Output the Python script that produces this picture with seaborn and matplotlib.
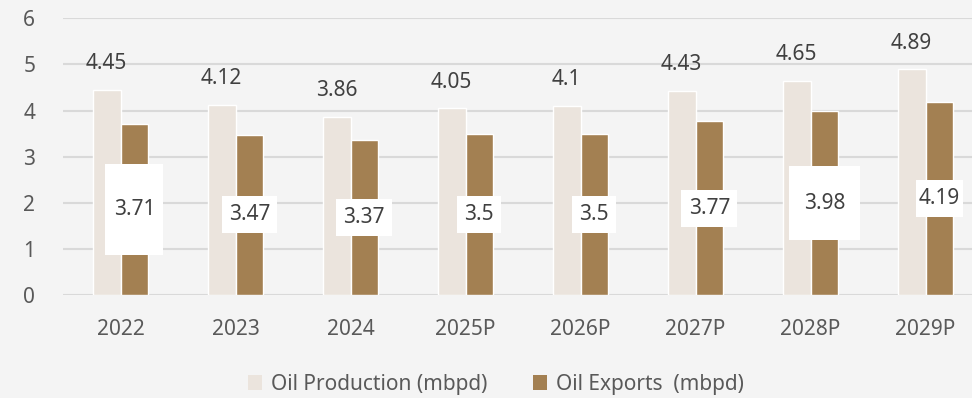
import matplotlib
matplotlib.use("Agg")
import matplotlib.pyplot as plt
from matplotlib.patches import Rectangle
import seaborn as sns
import pandas as pd

years = ["2022", "2023", "2024", "2025P", "2026P", "2027P", "2028P", "2029P"]
production = [4.45, 4.12, 3.86, 4.05, 4.10, 4.43, 4.65, 4.89]
exports = [3.71, 3.47, 3.37, 3.50, 3.50, 3.77, 3.98, 4.19]
production_labels = ["4.45", "4.12", "3.86", "4.05", "4.1", "4.43", "4.65", "4.89"]
export_labels = ["3.71", "3.47", "3.37", "3.5", "3.5", "3.77", "3.98", "4.19"]
series_names = ["Oil Production (mbpd)", "Oil Exports  (mbpd)"]

# white label boxes (width, height in pixels) behind the export values
export_box_px = [(58, 91), (55, 37), (56, 37), (44, 37), (44, 37), (56, 37), (71, 74), (47, 37)]

df = pd.DataFrame({
    "year": years * 2,
    "value": production + exports,
    "series": [series_names[0]] * len(years) + [series_names[1]] * len(years),
})

sns.set_theme(style="white")
plt.rcParams["font.family"] = ["Noto Sans", "DejaVu Sans"]

W, H = 972, 398
fig = plt.figure(figsize=(W / 100, H / 100), dpi=100, facecolor="#f4f4f4")
ax_l, ax_b = 63 / W, 1 - 295 / H
ax_w, ax_h = 920 / W, (295 - 18.3) / H
ax = fig.add_axes([ax_l, ax_b, ax_w, ax_h])
ax.set_facecolor("none")

colors = ["#ebe4dd", "#a38052"]
sns.barplot(data=df, x="year", y="value", hue="series", order=years,
            hue_order=series_names, palette=colors, width=0.48,
            saturation=1, ax=ax, legend=False, zorder=3)

ax.set_xlim(-0.5, len(years) - 0.5)
ax.set_ylim(0, 6)
ax.set_yticks(range(0, 7))
ax.grid(axis="y", color="#d9d9d9", linewidth=1.5, zorder=0)
for s in ax.spines.values():
    s.set_visible(False)
ax.set_xlabel("")
ax.set_ylabel("")
ax.tick_params(axis="both", length=0, labelsize=15, colors="#595959")
ax.tick_params(axis="y", pad=20)
ax.tick_params(axis="x", pad=17)

# pixel -> data scale for label boxes
px_x = (ax_w * W) / len(years)
px_y = (ax_h * H) / 6.0

bw = 0.24
for i, (p, e) in enumerate(zip(production, exports)):
    xp = i - bw / 2
    xe = i + bw / 2
    ax.annotate(production_labels[i], (xp, p), xytext=(0, 26),
                textcoords="offset pixels", ha="center", va="center",
                fontsize=15, color="#404040", zorder=5)
    bwpx, bhpx = export_box_px[i]
    rw, rh = bwpx / px_x, bhpx / px_y
    ax.add_patch(Rectangle((xe - rw / 2, e / 2 - rh / 2), rw, rh,
                           facecolor="white", edgecolor="none", zorder=4))
    ax.text(xe, e / 2, export_labels[i], ha="center", va="center",
            fontsize=15, color="#404040", zorder=5)

handles = [Rectangle((0, 0), 1, 1, facecolor=c, edgecolor="none") for c in colors]
fig.legend(handles, series_names, loc="center", bbox_to_anchor=(0.51, 0.035),
           ncol=2, frameon=False, fontsize=15, labelcolor="#595959",
           handlelength=0.7, handleheight=0.7, handletextpad=0.4, columnspacing=2.2)

fig.savefig("out.png", dpi=100, facecolor=fig.get_facecolor())
